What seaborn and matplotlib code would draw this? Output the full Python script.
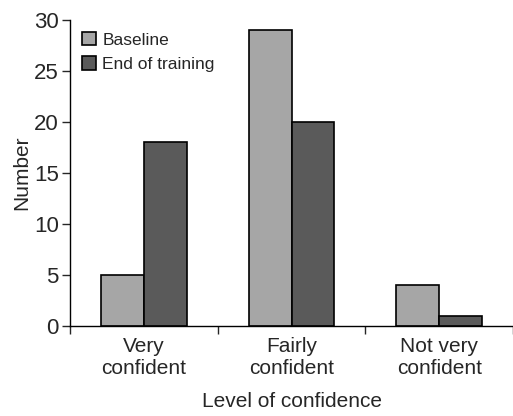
import pandas as pd
import matplotlib.pyplot as plt
import seaborn as sns

# Data
levels = ['Very\nconfident', 'Fairly\nconfident', 'Not very\nconfident']
baseline = [5, 29, 4]
end_training = [18, 20, 1]

df = pd.DataFrame({
    'Level': levels * 2,
    'Number': baseline + end_training,
    'Time': ['Baseline'] * 3 + ['End of training'] * 3,
})

sns.set_style('ticks')
plt.rcParams['font.family'] = ['Liberation Sans', 'DejaVu Sans']

fig = plt.figure(figsize=(5.13, 4.16), dpi=100)
ax = fig.add_axes([0.1365, 0.2163, 0.8635, 0.7357])

sns.barplot(data=df, x='Level', y='Number', hue='Time', ax=ax,
            palette=['#a6a6a6', '#5a5a5a'], width=0.58, gap=0,
            edgecolor='black', linewidth=1.2)

ax.set_xlim(-0.5, 2.5)
ax.set_ylim(0, 30)
ax.set_yticks([0, 5, 10, 15, 20, 25, 30])
ax.tick_params(axis='y', labelsize=16, length=6, width=1, direction='out', pad=2)
ax.tick_params(axis='x', which='major', labelsize=15, length=0, pad=8)
ax.set_xticks([-0.5, 0.5, 1.5, 2.5], minor=True)
ax.tick_params(axis='x', which='minor', length=6, width=1, direction='out')
ax.set_xlabel('Level of confidence', fontsize=15, labelpad=10)
ax.set_ylabel('Number', fontsize=15, labelpad=2)

for s in ['top', 'right']:
    ax.spines[s].set_visible(False)
for s in ['left', 'bottom']:
    ax.spines[s].set_linewidth(1)
    ax.spines[s].set_color('black')

leg = ax.legend(loc='upper left', bbox_to_anchor=(0.0, 1.0), frameon=False,
                fontsize=12.5, handlelength=0.8, handleheight=0.8,
                handletextpad=0.35, labelspacing=0.5, borderaxespad=0.3)

fig.savefig('out.png', dpi=100)
